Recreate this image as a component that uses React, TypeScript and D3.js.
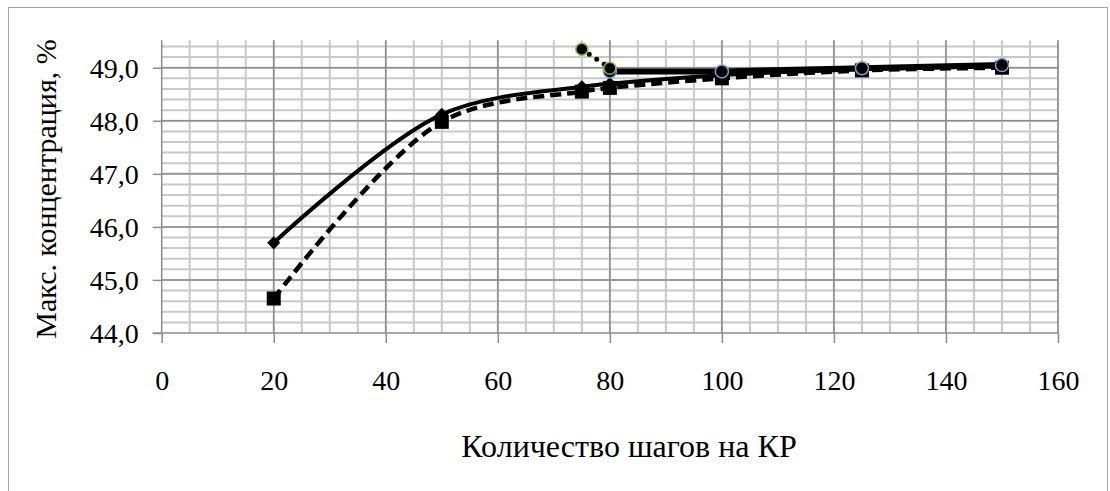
import React, { useEffect, useRef } from "react";
import * as d3 from "d3";

// steps per KR
const stepsMain = [20, 50, 75, 80, 100, 125, 150];
const concSolid = [45.7, 48.12, 48.64, 48.7, 48.86, 48.97, 49.03];
const concDashed = [44.65, 47.98, 48.55, 48.62, 48.8, 48.95, 49.0];

const stepsDotted = [75, 80];
const concDotted = [49.35, 48.99];

const stepsThick = [80, 100, 125, 150];
const concThick = [48.93, 48.93, 48.99, 49.05];

const xTicks = [0, 20, 40, 60, 80, 100, 120, 140, 160];
const yTicks = [44, 45, 46, 47, 48, 49];

const xTitle = "Количество шагов на КР";
const yTitle = "Макс. концентрация, %";

const W = 1110, H = 491;
const FONT = "Liberation Serif, Tinos, Times New Roman, serif";

const App = () => {
  const svgRef = useRef<SVGSVGElement>(null);

  useEffect(() => {
    const svg = d3.select(svgRef.current);
    svg.selectAll("*").remove();

    const left = 161.7, right = 1058, top = 41.2, bottom = 333;
    const x = d3.scaleLinear().domain([0, 160]).range([left, right]);
    const y = d3.scaleLinear().domain([44, 49.5]).range([bottom, top]);

    // outer frame
    svg.append("rect")
      .attr("x", 8.5).attr("y", 7.5)
      .attr("width", 1099).attr("height", 490)
      .attr("fill", "#fff").attr("stroke", "#a6a6a6").attr("stroke-width", 1);

    const grid = svg.append("g");
    // minor horizontal grid every 0.2
    d3.range(44.2, 49.45, 0.2).forEach(v => {
      grid.append("line")
        .attr("x1", left).attr("x2", right)
        .attr("y1", y(v)).attr("y2", y(v))
        .attr("stroke", "#c8c8c8").attr("stroke-width", 2);
    });
    // minor vertical grid every 5
    d3.range(5, 161, 5).forEach(v => {
      grid.append("line")
        .attr("x1", x(v)).attr("x2", x(v))
        .attr("y1", top - 1).attr("y2", bottom)
        .attr("stroke", "#c8c8c8").attr("stroke-width", 2);
    });
    // major grid
    yTicks.slice(1).forEach(v => {
      grid.append("line")
        .attr("x1", left).attr("x2", right)
        .attr("y1", y(v)).attr("y2", y(v))
        .attr("stroke", "#8c8c8c").attr("stroke-width", 1.5);
    });
    xTicks.slice(1).forEach(v => {
      grid.append("line")
        .attr("x1", x(v)).attr("x2", x(v))
        .attr("y1", top - 1).attr("y2", bottom)
        .attr("stroke", "#8c8c8c").attr("stroke-width", 1.5);
    });

    // axes
    const yAxis = svg.append("g").attr("transform", `translate(${left},0)`)
      .call(d3.axisLeft(y).tickValues(yTicks).tickSize(9).tickSizeOuter(0)
        .tickFormat(d => d3.format(".1f")(d as number).replace(".", ",")));
    yAxis.select(".domain").attr("stroke", "#8c8c8c").attr("stroke-width", 1.5)
      .attr("d", `M0,${top - 1}V${bottom}`);
    yAxis.selectAll(".tick line").attr("stroke", "#8c8c8c").attr("stroke-width", 1.5);

    const xAxis = svg.append("g").attr("transform", `translate(0,${bottom})`)
      .call(d3.axisBottom(x).tickValues(xTicks).tickSize(10).tickSizeOuter(0).tickFormat(d3.format("d")));
    xAxis.select(".domain").attr("stroke", "#8c8c8c").attr("stroke-width", 1.5)
      .attr("d", `M${left - 9},0H${right}`);
    xAxis.selectAll(".tick line").attr("stroke", "#8c8c8c").attr("stroke-width", 1.5);

    [yAxis, xAxis].forEach(a => a.attr("font-family", null).attr("font-size", null));
    yAxis.selectAll(".tick text")
      .attr("x", -23).attr("dy", "0.34em")
      .style("font-family", FONT).style("font-size", "28px").attr("fill", "#000");
    xAxis.selectAll(".tick text")
      .attr("y", 47).attr("dy", "0.34em")
      .style("font-family", FONT).style("font-size", "28px").attr("fill", "#000");

    // axis titles
    svg.append("text")
      .attr("x", (461 + 797) / 2).attr("y", 457)
      .attr("text-anchor", "middle")
      .style("font-family", FONT).style("font-size", "32px").attr("fill", "#000")
      .text(xTitle);
    svg.append("text")
      .attr("transform", `translate(56,189) rotate(-90)`)
      .attr("text-anchor", "middle")
      .style("font-family", FONT).style("font-size", "30px").attr("fill", "#000")
      .text(yTitle);

    const smooth = d3.line<[number, number]>()
      .x(d => x(d[0])).y(d => y(d[1]))
      .curve(d3.curveCatmullRom.alpha(0.5));
    const straight = d3.line<[number, number]>()
      .x(d => x(d[0])).y(d => y(d[1]));

    const zip = (xs: number[], ys: number[]) => xs.map((v, i) => [v, ys[i]] as [number, number]);

    const dashedPts = zip(stepsMain, concDashed);
    const solidPts = zip(stepsMain, concSolid);
    const dottedPts = zip(stepsDotted, concDotted);
    const thickPts = zip(stepsThick, concThick);

    // dashed series with squares
    svg.append("path").datum(dashedPts)
      .attr("fill", "none").attr("stroke", "#000").attr("stroke-width", 4.5)
      .attr("stroke-dasharray", "11,6").attr("d", smooth);
    svg.selectAll(".sq").data(dashedPts).enter().append("rect")
      .attr("x", d => x(d[0]) - 7).attr("y", d => y(d[1]) - 7)
      .attr("width", 14).attr("height", 14).attr("fill", "#000");

    // solid series with diamonds
    svg.append("path").datum(solidPts)
      .attr("fill", "none").attr("stroke", "#000").attr("stroke-width", 4)
      .attr("d", smooth);
    svg.selectAll(".dm").data(solidPts).enter().append("path")
      .attr("d", d3.symbol(d3.symbolDiamond2, 110))
      .attr("transform", d => `translate(${x(d[0])},${y(d[1])})`)
      .attr("fill", "#000");

    // thick series with blue-rimmed circles
    svg.append("path").datum(thickPts)
      .attr("fill", "none").attr("stroke", "#000").attr("stroke-width", 6)
      .attr("d", straight);
    svg.selectAll(".bc").data(thickPts).enter().append("circle")
      .attr("cx", d => x(d[0])).attr("cy", d => y(d[1])).attr("r", 6.5)
      .attr("fill", "#000").attr("stroke", "#7f9fcf").attr("stroke-width", 1.5);

    // dotted series with green-rimmed circles
    svg.append("path").datum(dottedPts)
      .attr("fill", "none").attr("stroke", "#000").attr("stroke-width", 5)
      .attr("stroke-linecap", "round").attr("stroke-dasharray", "0,9")
      .attr("d", straight);
    svg.selectAll(".gc").data(dottedPts).enter().append("circle")
      .attr("cx", d => x(d[0])).attr("cy", d => y(d[1])).attr("r", 6)
      .attr("fill", "#000").attr("stroke", "#8fb43c").attr("stroke-width", 1.5);
  }, []);

  return (
    <svg ref={svgRef} width={W} height={H}
      style={{ position: "absolute", left: 0, top: 0, background: "#fff" }} />
  );
};

export default App;
